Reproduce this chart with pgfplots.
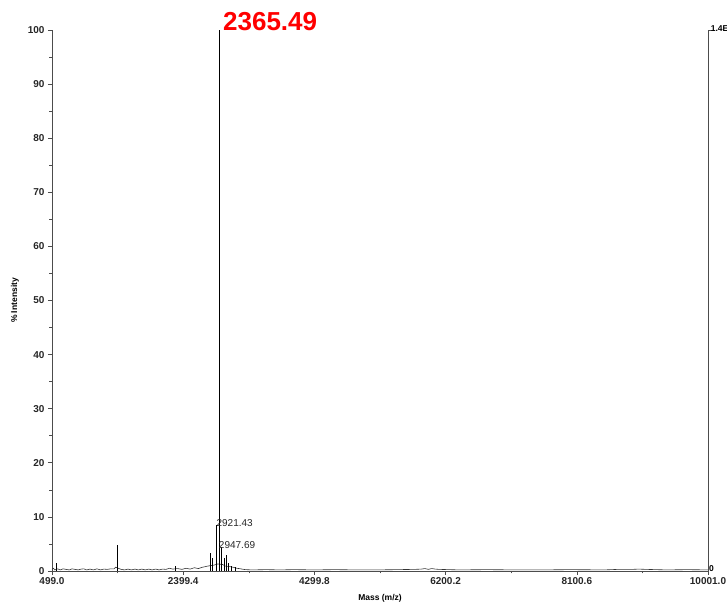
\documentclass[border=0pt]{standalone}
\usepackage{pgfplots}
\pgfplotsset{compat=1.18}
\usepackage{fontspec}
\setmainfont{Liberation Sans}
\usetikzlibrary{calc}
\begin{document}
\begin{tikzpicture}
\begin{axis}[name=ax, scale only axis, width=656pt, height=541pt,
  xmin=499, xmax=10001, ymin=0, ymax=100, clip=false,
  axis x line*=bottom, axis y line*=left,
  axis line style={-, black!70, line width=0.8pt},
  scaled x ticks=false, scaled y ticks=false,
  xtick={499,2399.4,4299.8,6200.2,8100.6,10001},
  xticklabels={499.0,2399.4,4299.8,6200.2,8100.6,10001.0},
  minor x tick num=1,
  ytick={0,10,...,100}, minor y tick num=1,
  tick align=outside, major tick length=4pt, minor tick length=2.5pt,
  tick style={black!70, line width=0.6pt},
  ticklabel style={font=\bfseries\fontsize{10}{11}\selectfont, text=black!85},
  xticklabel style={yshift=1pt},
  /pgf/number format/assume math mode=true,
  xlabel={Mass (m/z)}, ylabel={\% Intensity},
  xlabel style={at={(axis description cs:0.5,0)}, anchor=center, yshift=-27pt, font=\bfseries\fontsize{8.5}{10}\selectfont},
  ylabel style={at={(axis description cs:-0.0564,0.5)}, anchor=center, rotate=0, font=\bfseries\fontsize{8.5}{10}\selectfont},
]
% noise baseline band
\addplot[black!80, line width=0.6pt] coordinates {
(499,0.3) (520,0.5) (540,0.2) (580,0.4) (620,0.2) (660,0.4) (700,0.3) (750,0.2) (790,0.4) (830,0.3) (880,0.2)
(920,0.35) (960,0.4) (1000,0.2) (1050,0.35) (1100,0.2) (1150,0.4) (1200,0.2) (1250,0.35) (1300,0.3) (1350,0.4)
(1400,0.4) (1420,0.7) (1460,0.5) (1500,0.3) (1550,0.2) (1600,0.35) (1650,0.2) (1700,0.35) (1750,0.2) (1800,0.35)
(1850,0.2) (1900,0.35) (1950,0.2) (2000,0.35) (2050,0.2) (2100,0.35) (2150,0.3) (2200,0.5) (2250,0.35) (2320,0.45)
(2380,0.3) (2440,0.5) (2500,0.35) (2560,0.6) (2620,0.45) (2680,0.7) (2720,0.8) (2750,0.9) (2850,1.1) (2900,1.3)
(2970,1.2) (3010,0.9) (3080,0.8) (3120,0.7) (3180,0.5) (3230,0.4) (3300,0.25) (3400,0.2) (3600,0.25) (3800,0.2)
(4000,0.25) (4300,0.2) (4600,0.25) (4900,0.2) (5200,0.2) (5500,0.25) (5750,0.3) (5850,0.35) (5900,0.45) (5950,0.3)
(6000,0.45) (6050,0.35) (6100,0.3) (6400,0.2) (6800,0.25) (7200,0.2) (7600,0.2) (8000,0.25) (8500,0.2) (8700,0.3)
(8800,0.3) (8900,0.3) (9000,0.35) (9100,0.3) (9400,0.2) (9700,0.25) (10001,0.2)
};
% peaks
\addplot[ycomb, black, line width=0.8pt] coordinates {
(557,1.5) (1440,4.8) (2280,0.9) (2790,3.3) (2820,2.4) (2880,8.5) (2921.43,100)
(2947.69,4.4) (2995,2.4) (3030,3.0) (3060,1.5) (3100,1.0) (3150,0.8)
};
% right axis
\addplot[black!70, line width=0.8pt] coordinates {(10001,0) (10001,100)};
\addplot[black!70, line width=0.6pt] coordinates {(10001,100) (10101,100)};
\node[anchor=west, inner sep=1pt, font=\bfseries\fontsize{8.5}{9}\selectfont] at (axis cs:10001,0.4) {0};
\node[anchor=south west, inner sep=0pt, font=\bfseries\fontsize{8.5}{9}\selectfont] at (axis cs:10040,99.6) {1.4E};
% labels
\node[anchor=west, inner sep=0pt, font=\fontsize{10}{11}\selectfont, text=black!85] at (axis cs:2880,8.9) {2921.43};
\node[anchor=west, inner sep=0pt, font=\fontsize{10}{11}\selectfont, text=black!85] at (axis cs:2915,4.8) {2947.69};
\node[anchor=west, inner sep=0pt, font=\bfseries\fontsize{26}{28}\selectfont, text=red] at (axis cs:2975,101.6) {2365.49};
\end{axis}
\pgfresetboundingbox
\path[use as bounding box] ($(ax.south west)+(-52pt,-33pt)$) rectangle ($(ax.north east)+(19pt,30pt)$);
\end{tikzpicture}
\end{document}
